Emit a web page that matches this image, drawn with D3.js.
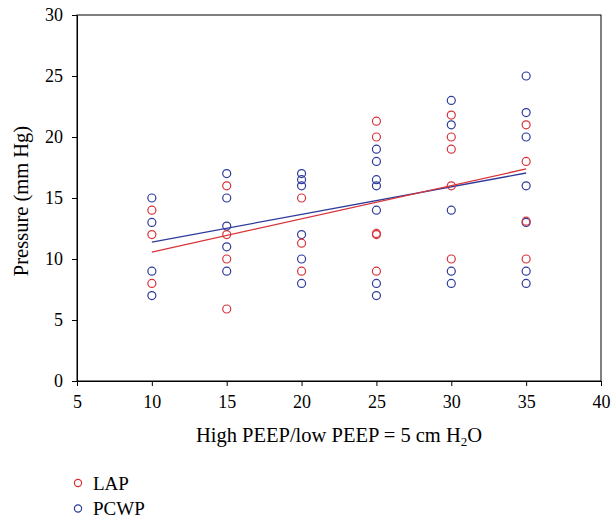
<!DOCTYPE html>
<html>
<head>
<meta charset="utf-8">
<script src="https://cdn.jsdelivr.net/npm/d3@7"></script>
<style>
  body { margin: 0; background: #fff; }
  text { font-family: "Liberation Serif", "DejaVu Serif", serif; }
</style>
</head>
<body>
<div id="chart"></div>
<script>
const width = 612;
const height = 518;

const xTicks = [5, 10, 15, 20, 25, 30, 35, 40];
const yTicks = [0, 5, 10, 15, 20, 25, 30];

// LAP readings per high PEEP level
const lapX = [10, 10, 10, 15, 15, 15, 15, 20, 20, 20, 25, 25, 25, 25, 25, 30, 30, 30, 30, 30, 35, 35, 35, 35];
const lapY = [14, 12, 8, 16, 12, 10, 5.9, 15, 11.3, 9, 21.3, 20, 12, 12.1, 9, 21.8, 20, 19, 16, 10, 21, 18, 13.1, 10];

// PCWP readings
const pcwpX = [10, 10, 10, 10, 15, 15, 15, 15, 15, 20, 20, 20, 20, 20, 20, 25, 25, 25, 25, 25, 25, 25, 30, 30, 30, 30, 30, 35, 35, 35, 35, 35, 35, 35];
const pcwpY = [15, 13, 9, 7, 17, 15, 12.7, 11, 9, 17, 16.5, 16, 12, 10, 8, 19, 18, 16.5, 16, 14, 8, 7, 23, 21, 14, 9, 8, 25, 22, 20, 16, 13, 9, 8];

// fitted lines, endpoints
const lapFitX = [10, 35];
const lapFitY = [10.57, 17.38];
const pcwpFitX = [10, 35];
const pcwpFitY = [11.39, 17.05];

const red = "#d8333a";
const blue = "#2e3b9a";

const margin = { left: 77, right: 11, top: 15, bottom: 137 };

const svg = d3.select("#chart")
    .append("svg")
    .attr("width", width)
    .attr("height", height);

const x = d3.scaleLinear().domain([5, 40]).range([margin.left, width - margin.right]);
const y = d3.scaleLinear().domain([0, 30]).range([height - margin.bottom, margin.top]);

// frame
svg.append("rect")
    .attr("x", x(5))
    .attr("y", y(30))
    .attr("width", x(40) - x(5))
    .attr("height", y(0) - y(30))
    .attr("fill", "none")
    .attr("stroke", "#000")
    .attr("stroke-width", 1);

const xAxis = svg.append("g")
    .attr("transform", `translate(0,${y(0)})`)
    .call(d3.axisBottom(x).tickValues(xTicks).tickSize(5).tickSizeOuter(0));

const yAxis = svg.append("g")
    .attr("transform", `translate(${x(5)},0)`)
    .call(d3.axisLeft(y).tickValues(yTicks).tickSize(5).tickSizeOuter(0));

[xAxis, yAxis].forEach(a => {
    a.select(".domain").attr("stroke", "#000");
    a.selectAll(".tick line").attr("stroke", "#000");
    a.selectAll(".tick text")
        .attr("font-family", "Liberation Serif")
        .attr("font-size", "18px")
        .attr("fill", "#000");
});
xAxis.selectAll(".tick text").attr("y", 27).attr("dy", "0");
yAxis.selectAll(".tick text").attr("x", -14);

// axis titles
const xt = svg.append("text")
    .attr("x", (x(5) + x(40)) / 2 + 0)
    .attr("y", 442)
    .attr("text-anchor", "middle")
    .attr("font-size", "20.5px")
    .attr("fill", "#000");
xt.append("tspan").text("High PEEP/low PEEP = 5 cm H");
xt.append("tspan").attr("font-size", "13px").attr("dy", "4").text("2");
xt.append("tspan").attr("dy", "-4").text("O");

svg.append("text")
    .attr("transform", `translate(28,${(y(0) + y(30)) / 2 + 3}) rotate(-90)`)
    .attr("text-anchor", "middle")
    .attr("font-size", "20.5px")
    .attr("fill", "#000")
    .text("Pressure (mm Hg)");

// fit lines
const line = d3.line().x(d => x(d[0])).y(d => y(d[1]));
svg.append("path")
    .datum(d3.zip(pcwpFitX, pcwpFitY))
    .attr("d", line)
    .attr("fill", "none")
    .attr("stroke", blue)
    .attr("stroke-width", 1.3);
svg.append("path")
    .datum(d3.zip(lapFitX, lapFitY))
    .attr("d", line)
    .attr("fill", "none")
    .attr("stroke", red)
    .attr("stroke-width", 1.3);

// points
svg.append("g").selectAll("circle")
    .data(d3.zip(pcwpX, pcwpY))
    .enter().append("circle")
    .attr("cx", d => x(d[0]))
    .attr("cy", d => y(d[1]))
    .attr("r", 4)
    .attr("fill", "none")
    .attr("stroke", blue)
    .attr("stroke-width", 1.2);

svg.append("g").selectAll("circle")
    .data(d3.zip(lapX, lapY))
    .enter().append("circle")
    .attr("cx", d => x(d[0]))
    .attr("cy", d => y(d[1]))
    .attr("r", 4)
    .attr("fill", "none")
    .attr("stroke", red)
    .attr("stroke-width", 1.2);

// legend
const legend = [{ name: "LAP", color: red }, { name: "PCWP", color: blue }];
const lg = svg.selectAll(".legend")
    .data(legend)
    .enter().append("g")
    .attr("class", "legend")
    .attr("transform", (d, i) => `translate(78,${483 + i * 25.5})`);
lg.append("circle")
    .attr("r", 3.6)
    .attr("fill", "none")
    .attr("stroke", d => d.color)
    .attr("stroke-width", 1.2);
lg.append("text")
    .attr("x", 15)
    .attr("y", 6.5)
    .attr("font-size", "19px")
    .attr("fill", "#000")
    .text(d => d.name);
</script>
</body>
</html>
